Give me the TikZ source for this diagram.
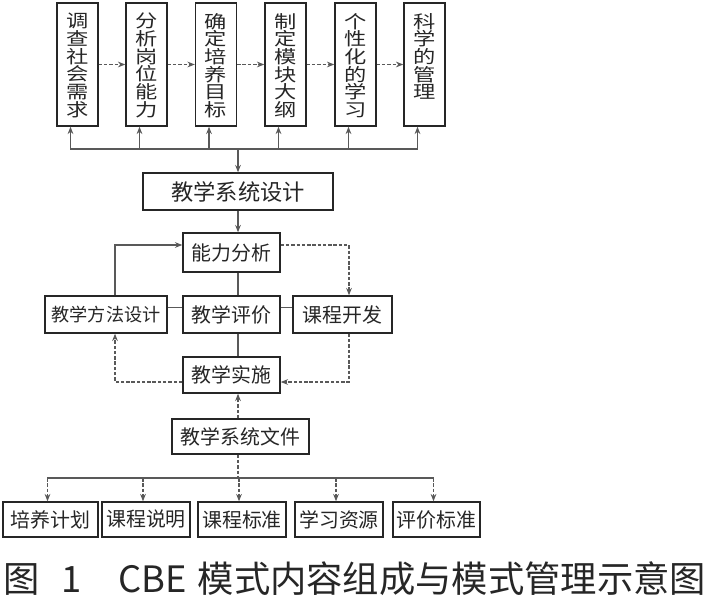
\documentclass[tikz,border=0pt]{standalone}
\usepackage{fontspec}
\setmainfont{Noto Sans CJK SC}
\usepackage{graphicx}
\usepackage{tikz}
\usetikzlibrary{arrows.meta, positioning}
\newcommand{\vcol}[1]{\scalebox{1}[0.8]{\parbox[c][4.6125cm][t]{1.23cm}{\centering\lineskiplimit=-20pt\baselineskip=18.9pt\vspace*{0.38cm}#1}}}

\begin{document}
\begin{tikzpicture}[x=0.03cm, y=-0.03cm, >={Stealth[length=2.2mm, width=1.7mm]},
  box/.style={draw=black!85, line width=1.2pt, text=black!85, inner sep=0pt},
  colbox/.style={box, font=\fontsize{19}{20}\selectfont},
  midbox/.style={box, minimum height=1.11cm, font=\fontsize{17}{20}\selectfont},
  docbox/.style={box, minimum width=2.64cm, minimum height=1.05cm, font=\fontsize{17}{20}\selectfont},
  link/.style={draw=black!65, line width=0.9pt},
  dlink/.style={link, dashed, dash pattern=on 3pt off 1.5pt}]
  \useasboundingbox (0,0) rectangle (709,600);

  % Top row
  \node[colbox] (survey)  at (77.5,64.5)  {\vcol{调\\查\\社\\会\\需\\求}};
  \node[colbox] (post)    at (146.5,64.5) {\vcol{分\\析\\岗\\位\\能\\力}};
  \node[colbox] (goal)    at (216,64.5)   {\vcol{确\\定\\培\\养\\目\\标}};
  \node[colbox] (module)  at (285.5,64.5) {\vcol{制\\定\\模\\块\\大\\纲}};
  \node[colbox] (learn)   at (355.5,64.5) {\vcol{个\\性\\化\\的\\学\\习}};
  \node[colbox] (manage)  at (424.5,64.5) {\vcol{科\\学\\的\\管\\理}};

  \foreach \a/\b in {survey/post, post/goal, goal/module, module/learn, learn/manage}
    \draw[dlink, ->] (\a.east) -- (\b.west);

  % Bus under the top row
  \coordinate (busL) at (70,149);
  \coordinate (busR) at (417.5,149);
  \coordinate (busM) at (238,149);
  \draw[link] (busL) -- (busR);
  \foreach \n in {survey, post, goal, module, learn, manage}
    \draw[link, ->] ([xshift=-0.21cm]\n.south |- busL) -- ([xshift=-0.21cm]\n.south);

  % System design
  \node[midbox, minimum width=5.7cm, font=\fontsize{19}{22}\selectfont] (design) at (238,191.5) {教学系统设计};
  \draw[link, ->] (busM) -- (design.north);

  % Middle loop
  \node[midbox, minimum width=2.91cm, minimum height=1.17cm] (ability) at (231.5,252.5) {能力分析};
  \node[midbox, minimum width=3.66cm, font=\fontsize{15.5}{18}\selectfont] (method) at (106,314.5) {教学方法设计};
  \node[midbox, minimum width=2.91cm] (eval)    at (231.5,314.5) {教学评价};
  \node[midbox, minimum width=2.97cm] (course)  at (342.5,314.5) {课程开发};
  \node[midbox, minimum width=2.91cm, minimum height=1.08cm] (impl) at (231.5,375) {教学实施};

  \draw[link, ->] (design.south) -- (design.south |- ability.north);
  \draw[link] (design.south |- ability.south) -- (design.south |- eval.north);
  \draw[link] (design.south |- eval.south) -- (design.south |- impl.north);
  \draw[link] ([yshift=0.21cm]method.east) -- ([yshift=0.21cm]eval.west);
  \draw[link] ([yshift=0.21cm]eval.east) -- ([yshift=0.21cm]course.west);

  \coordinate (nw) at (115,245);
  \coordinate (ne) at (349,245);
  \coordinate (se) at (349,382);
  \coordinate (sw) at (115,382);
  \draw[link, ->] (nw |- method.north) -- (nw) -- (ability.west |- nw);
  \draw[dlink, ->] (ability.east |- ne) -- (ne) -- (ne |- course.north);
  \draw[dlink, ->] (se |- course.south) -- (se) -- (impl.east |- se);
  \draw[dlink, ->] (impl.west |- sw) -- (sw) -- (sw |- method.south);

  % System documents
  \node[midbox, minimum width=4.11cm, minimum height=1.05cm] (docs) at (240.5,436.5) {教学系统文件};
  \draw[dlink, ->] (design.south |- docs.north) -- (design.south |- impl.south);

  \node[docbox, minimum width=2.85cm] (plan) at (50.5,519.5) {培养计划};
  \node[docbox] (desc)  at (146,519.5)   {课程说明};
  \node[docbox] (std)   at (242,519.5)   {课程标准};
  \node[docbox] (res)   at (339,519.5)   {学习资源};
  \node[docbox, minimum width=2.61cm] (crit) at (436.5,519.5) {评价标准};

  \coordinate (lowL) at (47,478);
  \coordinate (lowR) at (433.5,478);
  \draw[link] (lowL) -- (lowR);
  \draw[dlink] (design.south |- docs.south) -- (design.south |- lowL);
  \foreach \n in {plan, desc, std, res, crit}
    \draw[dlink, ->] ([xshift=-0.09cm]\n.north |- lowL) -- ([xshift=-0.09cm]\n.north);

  % Caption
  \node[font=\fontsize{31}{33}\selectfont, text=black!85] (caption) at (355,579) {图\hspace{0.6em}1\hspace{1em}CBE\hspace{0.3em}模式内容组成与模式管理示意图};
\end{tikzpicture}
\end{document}
